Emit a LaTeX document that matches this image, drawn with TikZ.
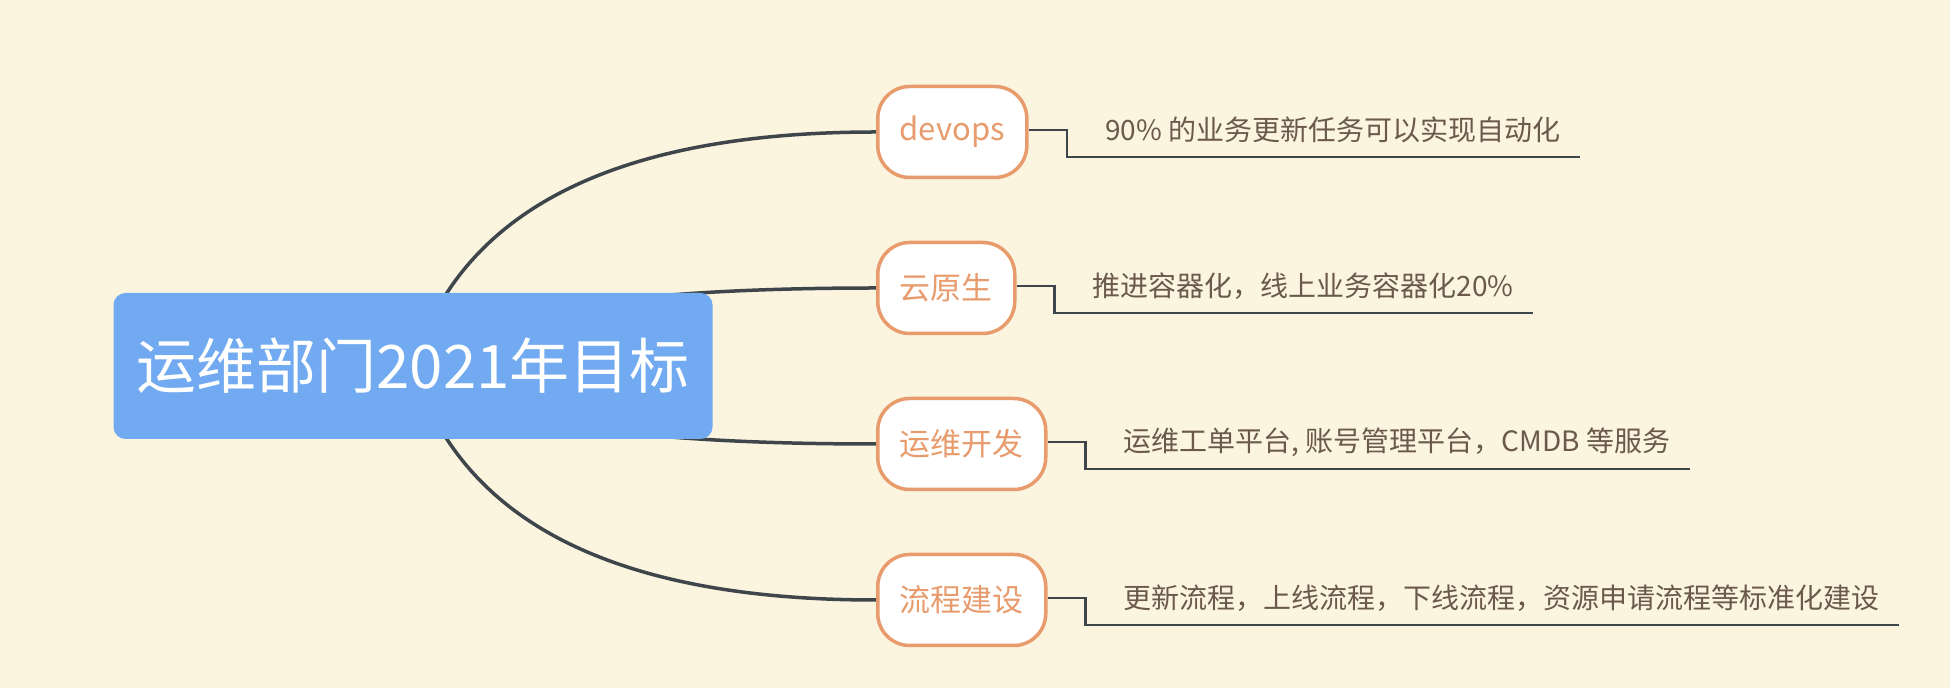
\documentclass[tikz,border=0pt]{standalone}
\usepackage{fontspec}
\setmainfont{Noto Sans CJK SC}
\usetikzlibrary{calc,positioning,backgrounds}

\definecolor{paper}{HTML}{FBF4DF}
\definecolor{rootblue}{HTML}{72AAF1}
\definecolor{topicorange}{HTML}{E89B6C}
\definecolor{linegray}{HTML}{3F464B}
\definecolor{detailbrown}{HTML}{6B5A4B}

\tikzset{
  goal/.style={fill=rootblue, rounded corners=6pt, minimum width=299.5pt, minimum height=73pt,
    inner sep=0pt, text=white, font=\fontsize{30pt}{36pt}\selectfont},
  topic/.style={draw=topicorange, line width=1.75pt, fill=white, rounded corners=16pt,
    minimum height=45.5pt, inner xsep=11pt, anchor=west, text=topicorange,
    font=\fontsize{15.5pt}{18pt}\selectfont},
  detail/.style={anchor=west, inner sep=0pt, text=detailbrown, font=\fontsize{14pt}{17pt}\selectfont},
  branchline/.style={linegray, line width=1.75pt},
  detailline/.style={linegray, line width=1.1pt},
}

\begin{document}
\begin{tikzpicture}[x=0.5pt,y=-0.5pt]
    % centre topic
    \node[goal] (goal) at (413,366) {运维部门2021年目标};

    % main topics
    \node[topic] (devops)  at (876,132) {devops};
    \node[topic] (cloud)   at (876,288) {云原生};
    \node[topic] (opsdev)  at (876,444) {运维开发};
    \node[topic] (process) at (876,600) {流程建设};

    % details
    \node[detail] (devops_text)  at ($(devops.east)+(38pt,1pt)$)  {90\% 的业务更新任务可以实现自动化};
    \node[detail] (cloud_text)   at ($(cloud.east)+(38pt,1pt)$)   {推进容器化，线上业务容器化20\%};
    \node[detail] (opsdev_text)  at ($(opsdev.east)+(38pt,1pt)$)  {运维工单平台, 账号管理平台，CMDB 等服务};
    \node[detail] (process_text) at ($(process.east)+(38pt,1pt)$) {更新流程，上线流程，下线流程，资源申请流程等标准化建设};

    % underlines
    \draw[detailline] ($(devops.east)+(0,1pt)$) -- ++(19pt,0) |- ($(devops_text.east)+(9.5pt,-13.5pt)$);
    \draw[detailline] ($(cloud.east)+(0,1pt)$) -- ++(19pt,0) |- ($(cloud_text.east)+(9.5pt,-13.5pt)$);
    \draw[detailline] ($(opsdev.east)+(0,1pt)$) -- ++(19pt,0) |- ($(opsdev_text.east)+(9.5pt,-13.5pt)$);
    \draw[detailline] ($(process.east)+(0,1pt)$) -- ++(19pt,0) |- ($(process_text.east)+(9.5pt,-13.5pt)$);

    % bends of the branches
    \coordinate (devops_bend)  at (485,132);
    \coordinate (cloud_bend)   at (485,288);
    \coordinate (opsdev_bend)  at (485,444);
    \coordinate (process_bend) at (485,600);

    \begin{pgfonlayer}{background}
    \fill[paper] (0,0) rectangle (1950,688);
    % branches behind the nodes
    \draw[branchline] (goal.center) .. controls ($(goal.center)!2/3!(devops_bend)$) and ($(devops.west)!2/3!(devops_bend)$) .. (devops.west);
    \draw[branchline] (goal.center) .. controls ($(goal.center)!2/3!(cloud_bend)$) and ($(cloud.west)!2/3!(cloud_bend)$) .. (cloud.west);
    \draw[branchline] (goal.center) .. controls ($(goal.center)!2/3!(opsdev_bend)$) and ($(opsdev.west)!2/3!(opsdev_bend)$) .. (opsdev.west);
    \draw[branchline] (goal.center) .. controls ($(goal.center)!2/3!(process_bend)$) and ($(process.west)!2/3!(process_bend)$) .. (process.west);
    \end{pgfonlayer}
\end{tikzpicture}
\end{document}
